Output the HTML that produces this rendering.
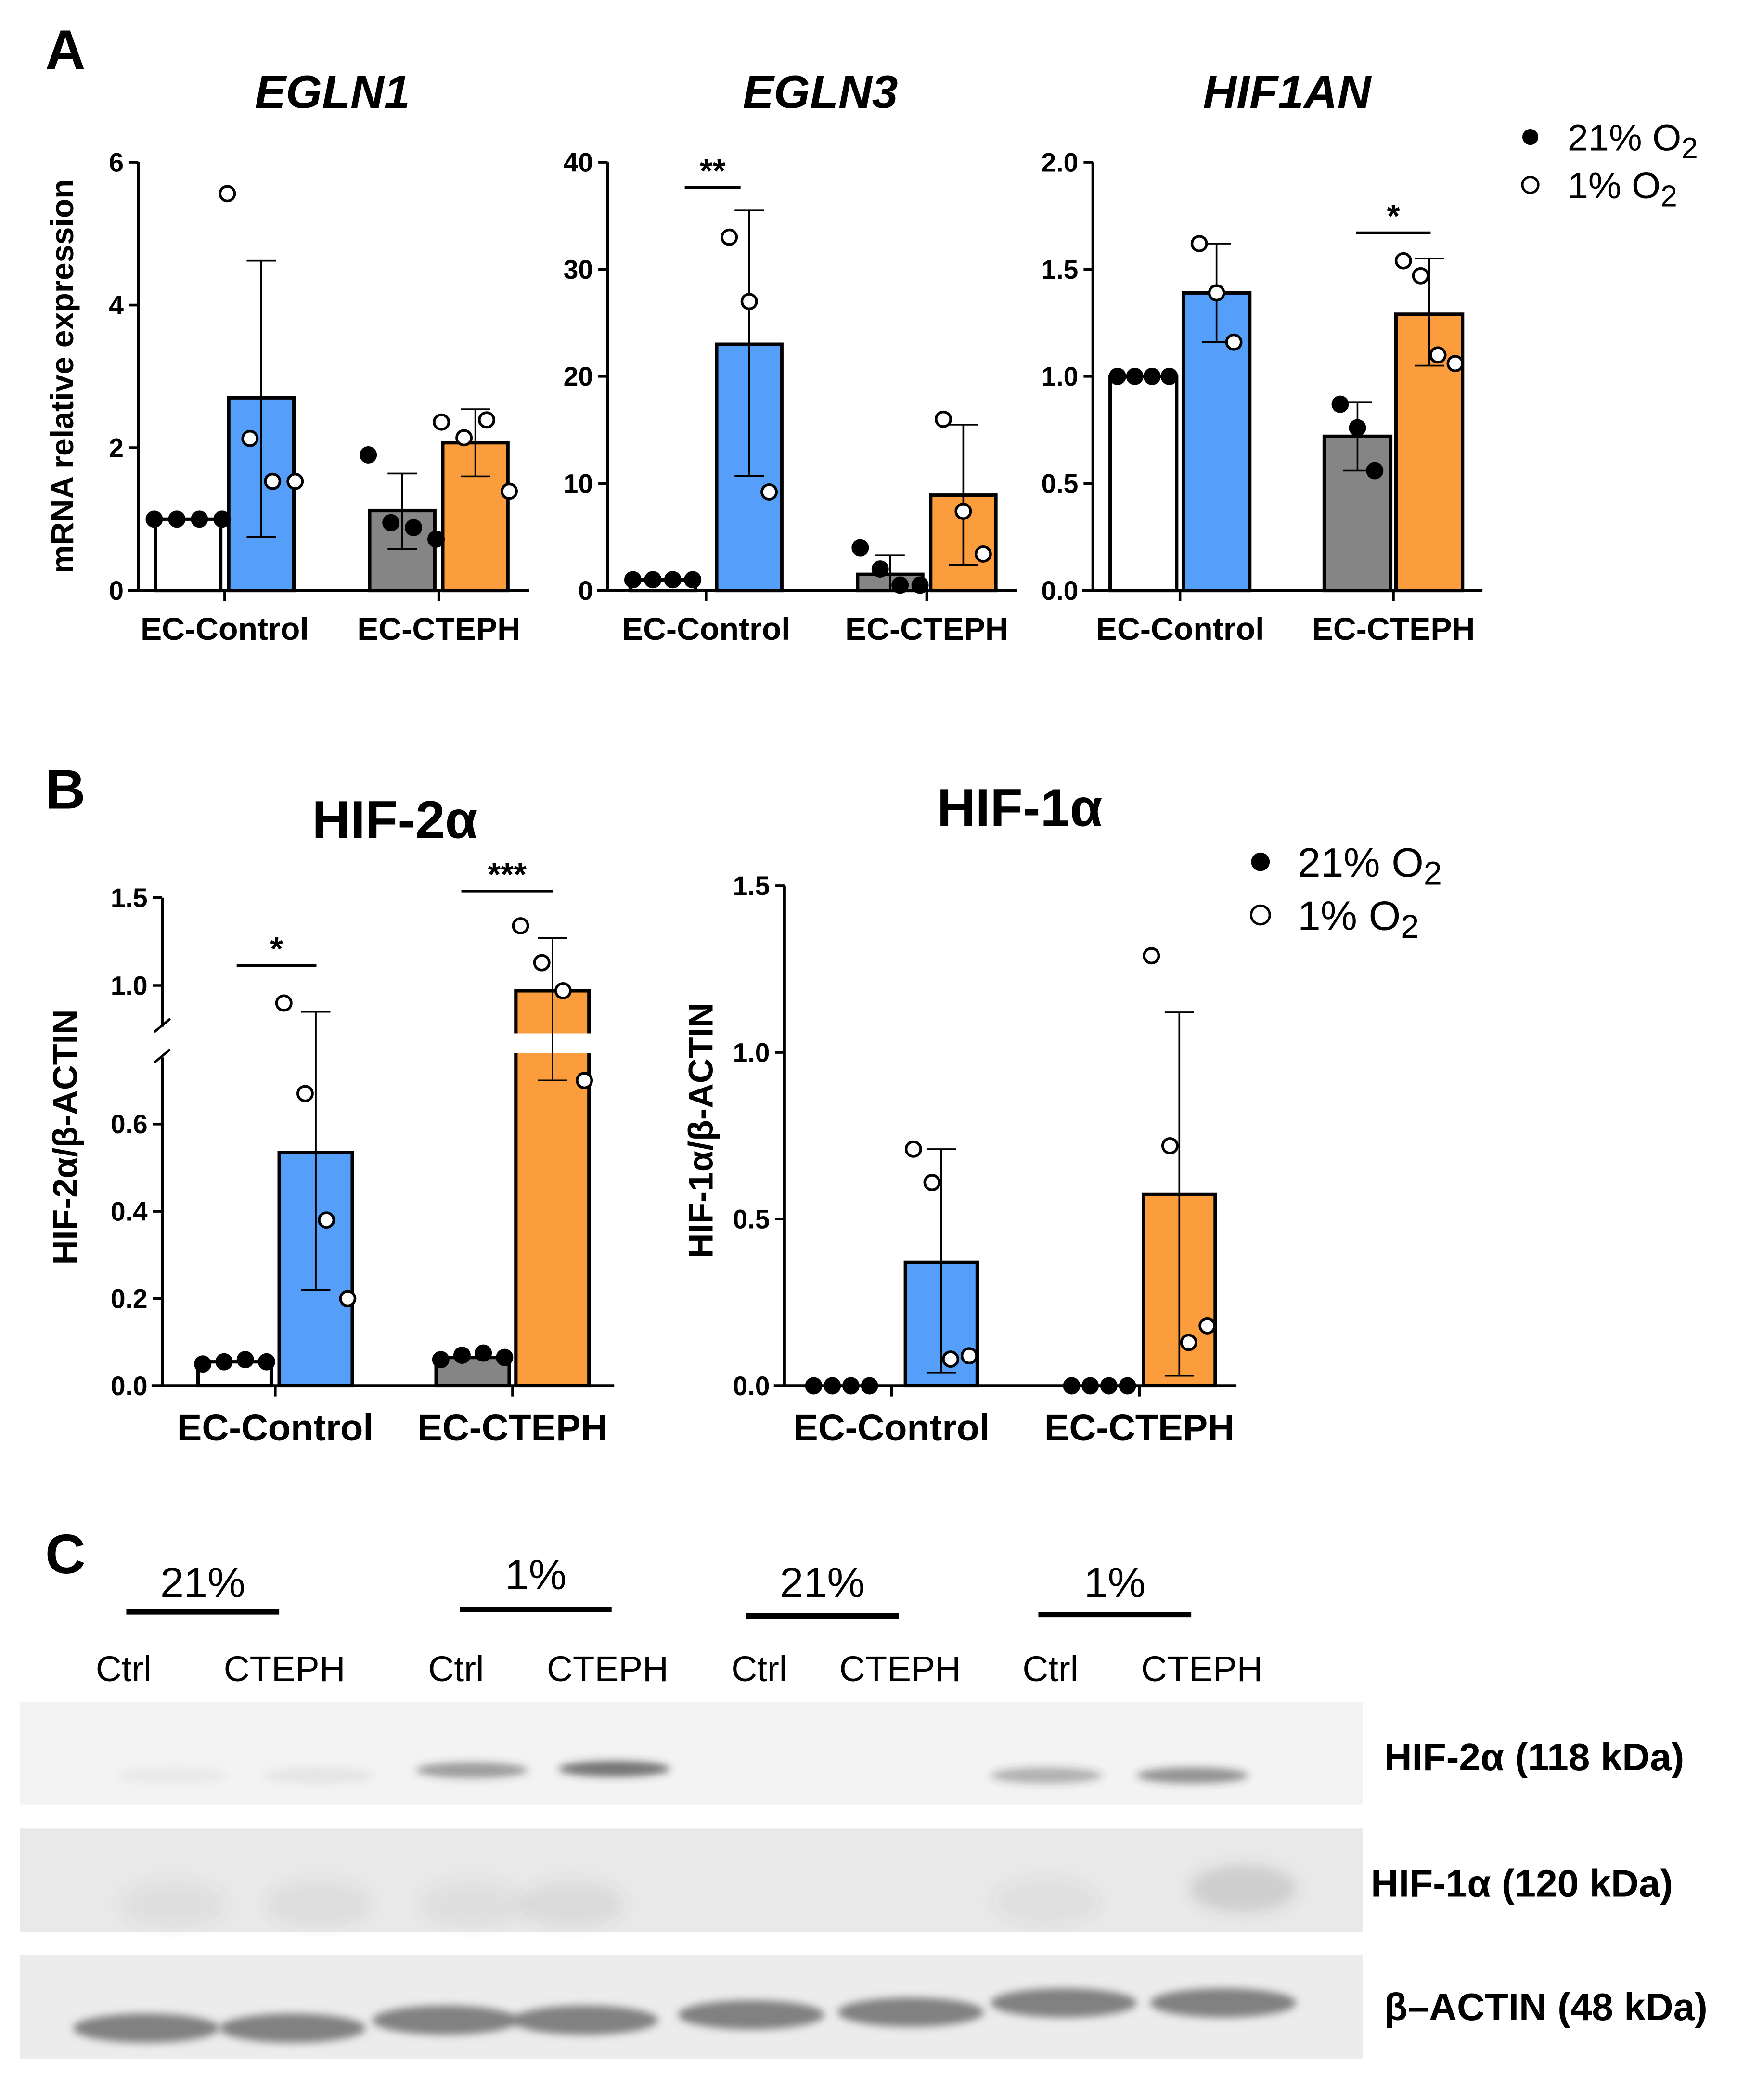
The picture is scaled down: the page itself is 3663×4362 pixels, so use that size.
<!DOCTYPE html>
<html><head><meta charset="utf-8"><style>
html,body{margin:0;padding:0;background:#fff}
svg{display:block}
text{font-family:"Liberation Sans",Arial,sans-serif}
</style></head><body>
<svg id="fig" xmlns="http://www.w3.org/2000/svg" width="3663" height="4362" viewBox="0 0 1326 1579">
<rect width="1326" height="1579" fill="#fff"/>
<defs>
<filter id="blur" x="-50%" y="-50%" width="200%" height="200%"><feGaussianBlur stdDeviation="5"/></filter>
<filter id="blur2" x="-50%" y="-50%" width="200%" height="200%"><feGaussianBlur stdDeviation="3"/></filter>
</defs>
<g id="root"></g>
</svg>
<script>
// ---- data ----
const categories = ["EC-Control","EC-CTEPH"];
const egln1Means = [1, 2.7, 1.12, 2.07];
const egln1Err = [[1,1],[0.75,4.62],[0.58,1.64],[1.6,2.54]];
const egln1Pts = [[1,1,1,1],[5.56,2.13,1.53,1.53],[1.9,0.95,0.88,0.72],[2.36,2.14,2.39,1.39]];
const egln1Ticks = [0,2,4,6];
const egln3Means = [1, 23, 1.5, 8.9];
const egln3Err = [[1,1],[10.7,35.5],[0,3.3],[2.4,15.5]];
const egln3Pts = [[1,1,1,1],[33,27,9.2],[4,2,0.5,0.5],[16,7.4,3.4]];
const egln3Ticks = [0,10,20,30,40];
const hif1anMeans = [1, 1.39, 0.72, 1.29];
const hif1anErr = [[1,1],[1.16,1.62],[0.56,0.88],[1.05,1.55]];
const hif1anPts = [[1,1,1,1],[1.62,1.39,1.16],[0.87,0.76,0.56],[1.54,1.47,1.1,1.06]];
const hif1anTicks = [0,0.5,1.0,1.5,2.0];
const hif2Means = [0.055, 0.535, 0.065, 0.97];
const hif2Err = [[0.055,0.055],[0.22,0.85],[0.065,0.065],[0.7,1.27]];
const hif2Pts = [[0.05,0.055,0.06,0.055],[0.9,0.67,0.38,0.2],[0.06,0.07,0.075,0.065],[1.34,1.13,0.97,0.7]];
const hif2TicksLow = [0,0.2,0.4,0.6];
const hif2TicksHigh = [1.0,1.5];
const hif1aMeans = [0, 0.37, 0, 0.575];
const hif1aErr = [[0,0],[0.04,0.71],[0,0],[0.03,1.12]];
const hif1aPts = [[0,0,0,0],[0.71,0.61,0.08,0.09],[0,0,0,0],[1.29,0.72,0.13,0.18]];
const hif1aTicks = [0,0.5,1.0,1.5];
const barColors = ["#ffffff","#559ffb","#858585","#fb9d3c"];

const NS="http://www.w3.org/2000/svg";
const root=document.getElementById('root');
function el(tag,attrs,parent,txt){const e=document.createElementNS(NS,tag);for(const k in attrs)e.setAttribute(k,attrs[k]);if(txt!==undefined)e.textContent=txt;(parent||root).appendChild(e);return e;}
function fmt(v,d){return d?v.toFixed(1):String(v);}

function chart(cfg){
  const g=el('g',{});
  
  
  const {ax,x1,y0,scale,barX,bw}=cfg;
  const y=cfg.y||(v=>y0-v*scale);
  cfg.means.forEach((m,i)=>{
    const b=el('rect',{x:barX[i],y:Math.min(y(m),y0),width:bw,height:Math.abs(y0-y(m)),fill:barColors[i],stroke:'#000','stroke-width':2.6},g);
    
    
    if(cfg.gap && m>cfg.gap[0]){el('rect',{x:barX[i]-3,y:cfg.gap[1],width:bw+6,height:cfg.gap[2],fill:'#fff'},g);}
  });
  cfg.err.forEach((e,i)=>{
    if(e[0]===e[1])return;
    const cx=barX[i]+bw/2;
    const eb=el('path',{d:`M${cx},${y(e[0])}V${y(e[1])}M${cx-11},${y(e[0])}h22M${cx-11},${y(e[1])}h22`,stroke:'#000','stroke-width':1.3,fill:'none'},g);
    
    
  });
  cfg.pts.forEach((ps,i)=>{
    const n=ps.length, cx=barX[i]+bw/2;
    ps.forEach((v,j)=>{
      const off=(j-(n-1)/2)*(cfg.spread||17);
      const c=el('circle',{cx:cx+off,cy:y(v),r:5.5,fill:(i%2===0)?'#000':'#fff',stroke:'#000','stroke-width':2},g);
      
      
    });
  });
  const top=cfg.axTop;
  if(cfg.brk){
    el('path',{d:`M${ax},${y0+1}V${cfg.brk[0]}M${ax},${cfg.brk[1]}V${top}`,stroke:'#000','stroke-width':2.2},g);
    el('path',{d:`M${ax-6},${cfg.brk[0]+4}l12,-10M${ax-6},${cfg.brk[1]+4}l12,-10`,stroke:'#000','stroke-width':1.8},g);
  } else el('line',{x1:ax,y1:y0+1,x2:ax,y2:top,stroke:'#000','stroke-width':2.2},g);
  el('line',{x1:ax-8,y1:y0,x2:x1,y2:y0,stroke:'#000','stroke-width':2.4},g);
  cfg.ticks.forEach(t=>{
    const ty=y(t);
    el('line',{x1:ax-7,y1:ty,x2:ax,y2:ty,stroke:'#000','stroke-width':2},g);
    const tl=el('text',{x:ax-11,y:ty+7,'text-anchor':'end','font-size':20,'font-weight':'bold'},g,fmt(t,cfg.dec));
    
    
  });
  [0,1].forEach(k=>{
    const cx=(barX[2*k]+barX[2*k+1]+bw)/2;
    el('line',{x1:cx,y1:y0,x2:cx,y2:y0+8,stroke:'#000','stroke-width':2},g);
    const cl=el('text',{x:cx,y:y0+cfg.catDy,'text-anchor':'middle','font-size':cfg.catFs,'font-weight':'bold'},g,categories[k]);
    
    
  });
  const t=el('text',{x:cfg.titleX,y:cfg.titleY,'text-anchor':'middle','font-size':cfg.titleFs,'font-weight':'bold','font-style':cfg.italic?'italic':'normal'},g,cfg.title);
  
  
  (cfg.sig||[]).forEach(s=>{
    el('line',{x1:s[0],y1:s[2],x2:s[1],y2:s[2],stroke:'#000','stroke-width':2},g);
    const st=el('text',{x:(s[0]+s[1])/2,y:s[2]-4,'text-anchor':'middle','font-size':25,'font-weight':'bold'},g,s[3]);
    
    
  });
  if(cfg.ytitle){
    const yt=el('text',{transform:`translate(${cfg.ytitle[1]},${cfg.ytitle[2]}) rotate(-90)`,'text-anchor':'middle','font-size':cfg.ytitle[3],'font-weight':'bold'},g);
    yt.textContent=cfg.ytitle[0];
    
    
  }
}

[["A",34,52],["B",34,608],["C",34,1183]].forEach(p=>{
  const t=el('text',{x:p[1],y:p[2],'font-size':42,'font-weight':'bold'},root,p[0]);
  
  
});

chart({name:'egln1-chart',short:'egln1',ax:104,x1:398,y0:444,scale:322/6,barX:[117,172,278,333],bw:49,means:egln1Means,err:egln1Err,pts:egln1Pts,ticks:egln1Ticks,axTop:122,title:'EGLN1',italic:true,titleX:250,titleY:81,titleFs:35,catDy:37,catFs:24,ytitle:['mRNA relative expression',55,283,24]});
chart({name:'egln3-chart',short:'egln3',ax:457,x1:765,y0:444,scale:322/40,barX:[474,539,645,700],bw:49,means:egln3Means,err:egln3Err,pts:egln3Pts,ticks:egln3Ticks,axTop:122,title:'EGLN3',italic:true,titleX:617,titleY:81,titleFs:35,catDy:37,catFs:24,sig:[[515,557,141,'**']],spread:15});
chart({name:'hif1an-chart',short:'hif1an',ax:822,x1:1115,y0:444,scale:322/2,barX:[835,890,996,1050],bw:50,means:hif1anMeans,err:hif1anErr,pts:hif1anPts,ticks:hif1anTicks,axTop:122,dec:true,title:'HIF1AN',italic:true,titleX:968,titleY:81,titleFs:35,catDy:37,catFs:24,sig:[[1020,1076,175,'*']],spread:13});

const hif2Y=v=> v<=0.76 ? 1042-v*328 : 741-(v-1)*132;
chart({name:'hif2a-chart',short:'hif2a',ax:122,x1:462,y0:1042,y:hif2Y,barX:[149,210,328,388],bw:55,means:hif2Means,err:hif2Err,pts:hif2Pts,ticks:hif2TicksLow.concat(hif2TicksHigh),axTop:675,brk:[795,772],gap:[0.76,777,15],dec:true,title:'HIF-2α',titleX:297,titleY:630,titleFs:40,catDy:41,catFs:28,sig:[[178,238,726,'*'],[347,416,670,'***']],ytitle:['HIF-2α/β-ACTIN',58,855,26],spread:16});
chart({name:'hif1a-chart',short:'hif1a',ax:590,x1:930,y0:1042,scale:376/1.5,barX:[606,681,800,860],bw:54,means:hif1aMeans,err:hif1aErr,pts:hif1aPts,ticks:hif1aTicks,axTop:666,dec:true,title:'HIF-1α',titleX:767,titleY:621,titleFs:40,catDy:41,catFs:28,ytitle:['HIF-1α/β-ACTIN',536,850,26],spread:14});

function legend(x,y1,y2,fs,r,name){
  const g=el('g',{});
  
  
  el('circle',{cx:x,cy:y1,r:r,fill:'#000'},g);
  el('circle',{cx:x,cy:y2,r:r,fill:'#fff',stroke:'#000','stroke-width':1.8},g);
  const a=el('text',{x:x+28,y:y1+fs*0.36,'font-size':fs},g); a.innerHTML='21% O<tspan dy="6" font-size="'+(fs*0.8)+'">2</tspan>';
  const b=el('text',{x:x+28,y:y2+fs*0.36,'font-size':fs},g); b.innerHTML='1% O<tspan dy="6" font-size="'+(fs*0.8)+'">2</tspan>';
}
legend(1151,103,139,28,6,'legend-a');
legend(948,648,688,31,7,'legend-b');

const pc=el('g',{});


const groups=[["21%",95,210,1188,1212],["1%",346,460,1182,1210],["21%",561,676,1188,1215],["1%",781,896,1188,1214]];
groups.forEach(gr=>{
  el('line',{x1:gr[1],y1:gr[4],x2:gr[2],y2:gr[4],stroke:'#000','stroke-width':4},pc);
  el('text',{x:(gr[1]+gr[2])/2,y:gr[3]+13,'text-anchor':'middle','font-size':32},pc,gr[0]);
});
const lanes=[["Ctrl",93],["CTEPH",214],["Ctrl",343],["CTEPH",457],["Ctrl",571],["CTEPH",677],["Ctrl",790],["CTEPH",904]];
lanes.forEach(l=>el('text',{x:l[1],y:1264,'text-anchor':'middle','font-size':27},pc,l[0]));
el('rect',{x:15,y:1280,width:1010,height:77,fill:'#f3f3f3'},pc);
el('rect',{x:15,y:1375,width:1010,height:78,fill:'#e9e9e9'},pc);
el('rect',{x:15,y:1470,width:1010,height:78,fill:'#ececec'},pc);
[[355,1331,0.45],[462,1330,0.65],[787,1335,0.35],[897,1335,0.5],[130,1335,0.04],[240,1335,0.06]].forEach(b=>
  el('ellipse',{cx:b[0],cy:b[1],rx:42,ry:6,fill:'#333','fill-opacity':b[2],filter:'url(#blur2)'},pc));
[[130,1432,0.07],[240,1432,0.08],[355,1432,0.07],[430,1432,0.09],[787,1430,0.06],[935,1420,0.18]].forEach(b=>
  el('ellipse',{cx:b[0],cy:b[1],rx:40,ry:18,fill:'#555','fill-opacity':b[2],filter:'url(#blur)'},pc));
[[110,1525],[220,1525],[335,1519],[440,1519],[565,1515],[685,1513],[800,1506],[920,1506]].forEach(b=>
  el('ellipse',{cx:b[0],cy:b[1],rx:55,ry:11,fill:'#666','fill-opacity':0.8,filter:'url(#blur2)'},pc));
[["HIF-2α (118 kDa)",1041,1331],["HIF-1α (120 kDa)",1031,1426],["β–ACTIN (48 kDa)",1041,1519]].forEach(t=>{
  const tt=el('text',{x:t[1],y:t[2],'font-size':29,'font-weight':'bold'},pc,t[0]);
  
  
});
</script>
</body></html>
